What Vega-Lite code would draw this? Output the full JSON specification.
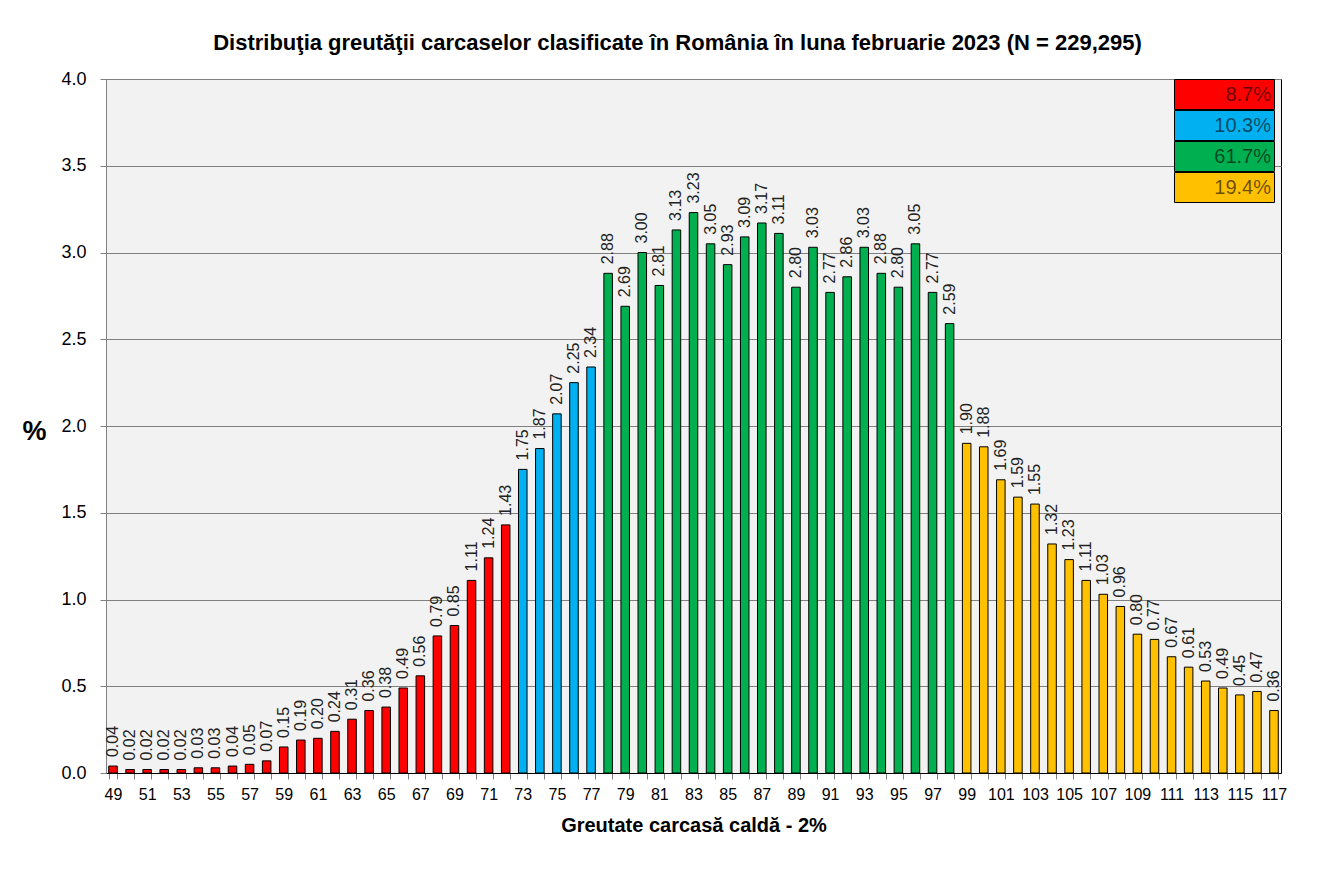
{
  "$schema": "https://vega.github.io/schema/vega-lite/v6.json",
  "autosize": "none",
  "width": 1175,
  "height": 694,
  "padding": {"left": 106, "top": 79, "right": 61, "bottom": 107},
  "background": "white",
  "config": {
    "font": "Liberation Sans",
    "view": {"stroke": "#000000", "fill": "#f2f2f2"}
  },
  "title": {
    "text": "Distribuţia greutăţii carcaselor clasificate în România în luna februarie 2023 (N = 229,295)",
    "font": "Liberation Sans",
    "fontSize": 22,
    "fontWeight": "bold",
    "color": "#000000",
    "anchor": "middle",
    "offset": 15,
    "dx": -16
  },
  "data": {
    "values": [
      {"w": 49, "p": 0.04, "g": "8.7%"}, {"w": 50, "p": 0.02, "g": "8.7%"}, {"w": 51, "p": 0.02, "g": "8.7%"},
      {"w": 52, "p": 0.02, "g": "8.7%"}, {"w": 53, "p": 0.02, "g": "8.7%"}, {"w": 54, "p": 0.03, "g": "8.7%"},
      {"w": 55, "p": 0.03, "g": "8.7%"}, {"w": 56, "p": 0.04, "g": "8.7%"}, {"w": 57, "p": 0.05, "g": "8.7%"},
      {"w": 58, "p": 0.07, "g": "8.7%"}, {"w": 59, "p": 0.15, "g": "8.7%"}, {"w": 60, "p": 0.19, "g": "8.7%"},
      {"w": 61, "p": 0.20, "g": "8.7%"}, {"w": 62, "p": 0.24, "g": "8.7%"}, {"w": 63, "p": 0.31, "g": "8.7%"},
      {"w": 64, "p": 0.36, "g": "8.7%"}, {"w": 65, "p": 0.38, "g": "8.7%"}, {"w": 66, "p": 0.49, "g": "8.7%"},
      {"w": 67, "p": 0.56, "g": "8.7%"}, {"w": 68, "p": 0.79, "g": "8.7%"}, {"w": 69, "p": 0.85, "g": "8.7%"},
      {"w": 70, "p": 1.11, "g": "8.7%"}, {"w": 71, "p": 1.24, "g": "8.7%"}, {"w": 72, "p": 1.43, "g": "8.7%"},
      {"w": 73, "p": 1.75, "g": "10.3%"}, {"w": 74, "p": 1.87, "g": "10.3%"}, {"w": 75, "p": 2.07, "g": "10.3%"},
      {"w": 76, "p": 2.25, "g": "10.3%"}, {"w": 77, "p": 2.34, "g": "10.3%"},
      {"w": 78, "p": 2.88, "g": "61.7%"}, {"w": 79, "p": 2.69, "g": "61.7%"}, {"w": 80, "p": 3.00, "g": "61.7%"},
      {"w": 81, "p": 2.81, "g": "61.7%"}, {"w": 82, "p": 3.13, "g": "61.7%"}, {"w": 83, "p": 3.23, "g": "61.7%"},
      {"w": 84, "p": 3.05, "g": "61.7%"}, {"w": 85, "p": 2.93, "g": "61.7%"}, {"w": 86, "p": 3.09, "g": "61.7%"},
      {"w": 87, "p": 3.17, "g": "61.7%"}, {"w": 88, "p": 3.11, "g": "61.7%"}, {"w": 89, "p": 2.80, "g": "61.7%"},
      {"w": 90, "p": 3.03, "g": "61.7%"}, {"w": 91, "p": 2.77, "g": "61.7%"}, {"w": 92, "p": 2.86, "g": "61.7%"},
      {"w": 93, "p": 3.03, "g": "61.7%"}, {"w": 94, "p": 2.88, "g": "61.7%"}, {"w": 95, "p": 2.80, "g": "61.7%"},
      {"w": 96, "p": 3.05, "g": "61.7%"}, {"w": 97, "p": 2.77, "g": "61.7%"}, {"w": 98, "p": 2.59, "g": "61.7%"},
      {"w": 99, "p": 1.90, "g": "19.4%"}, {"w": 100, "p": 1.88, "g": "19.4%"}, {"w": 101, "p": 1.69, "g": "19.4%"},
      {"w": 102, "p": 1.59, "g": "19.4%"}, {"w": 103, "p": 1.55, "g": "19.4%"}, {"w": 104, "p": 1.32, "g": "19.4%"},
      {"w": 105, "p": 1.23, "g": "19.4%"}, {"w": 106, "p": 1.11, "g": "19.4%"}, {"w": 107, "p": 1.03, "g": "19.4%"},
      {"w": 108, "p": 0.96, "g": "19.4%"}, {"w": 109, "p": 0.80, "g": "19.4%"}, {"w": 110, "p": 0.77, "g": "19.4%"},
      {"w": 111, "p": 0.67, "g": "19.4%"}, {"w": 112, "p": 0.61, "g": "19.4%"}, {"w": 113, "p": 0.53, "g": "19.4%"},
      {"w": 114, "p": 0.49, "g": "19.4%"}, {"w": 115, "p": 0.45, "g": "19.4%"}, {"w": 116, "p": 0.47, "g": "19.4%"},
      {"w": 117, "p": 0.36, "g": "19.4%"}
    ]
  },
  "encoding": {
    "x": {
      "field": "w",
      "type": "ordinal",
      "sort": null,
      "scale": {"paddingInner": 0.5, "paddingOuter": 0.16},
      "axis": {
        "title": "Greutate carcasă caldă - 2%",
        "titleFont": "Liberation Sans",
        "titleFontSize": 20,
        "titleFontWeight": "bold",
        "titleColor": "#000000",
        "titlePadding": 13,
        "labelAngle": 0,
        "labelFont": "Liberation Sans",
        "labelFontSize": 16,
        "labelColor": "#000000",
        "labelPadding": 7,
        "labelExpr": "datum.value % 2 == 1 ? datum.label : ''",
        "tickBand": "extent",
        "tickColor": "#808080",
        "tickSize": 6,
        "domainColor": "#000000",
        "grid": false
      }
    },
    "y": {
      "field": "p",
      "type": "quantitative",
      "scale": {"domain": [0, 4], "nice": false},
      "axis": {
        "values": [0, 0.5, 1, 1.5, 2, 2.5, 3, 3.5, 4],
        "format": ".1f",
        "title": "%",
        "titleAngle": 0,
        "titleFont": "Liberation Sans",
        "titleFontSize": 27,
        "titleFontWeight": "bold",
        "titleColor": "#000000",
        "titleX": -72,
        "titleY": 366,
        "labelFont": "Liberation Sans",
        "labelFontSize": 18,
        "labelColor": "#000000",
        "labelPadding": 14,
        "tickColor": "#808080",
        "tickSize": 6,
        "domainColor": "#808080",
        "gridColor": "#808080",
        "gridWidth": 1
      }
    }
  },
  "layer": [
    {
      "mark": {"type": "bar", "stroke": "#000000", "strokeWidth": 1},
      "encoding": {
        "color": {
          "field": "g",
          "type": "nominal",
          "scale": {
            "domain": ["8.7%", "10.3%", "61.7%", "19.4%"],
            "range": ["#ff0000", "#00b0f0", "#00b050", "#ffc000"]
          },
          "legend": {
            "title": null,
            "orient": "none",
            "legendX": 1068,
            "legendY": 0,
            "padding": 0,
            "rowPadding": -2,
            "symbolType": "M-1,-1H5.667V1H-1Z",
            "symbolSize": 900,
            "symbolStrokeColor": "#000000",
            "symbolStrokeWidth": 1,
            "symbolOpacity": 1,
            "labelAlign": "right",
            "labelOffset": 66,
            "labelFont": "Liberation Sans",
            "labelFontSize": 20,
            "labelColor": "#000000",
            "labelOpacity": 0.6,
            "encode": {
              "symbols": {"update": {"strokeJoin": {"value": "bevel"}}}
            }
          }
        }
      }
    },
    {
      "mark": {
        "type": "text",
        "angle": 270,
        "align": "left",
        "baseline": "middle",
        "dx": 9,
        "font": "Liberation Sans",
        "fontSize": 16,
        "color": "#222222"
      },
      "encoding": {
        "text": {"field": "p", "type": "quantitative", "format": ".2f"}
      }
    }
  ]
}
